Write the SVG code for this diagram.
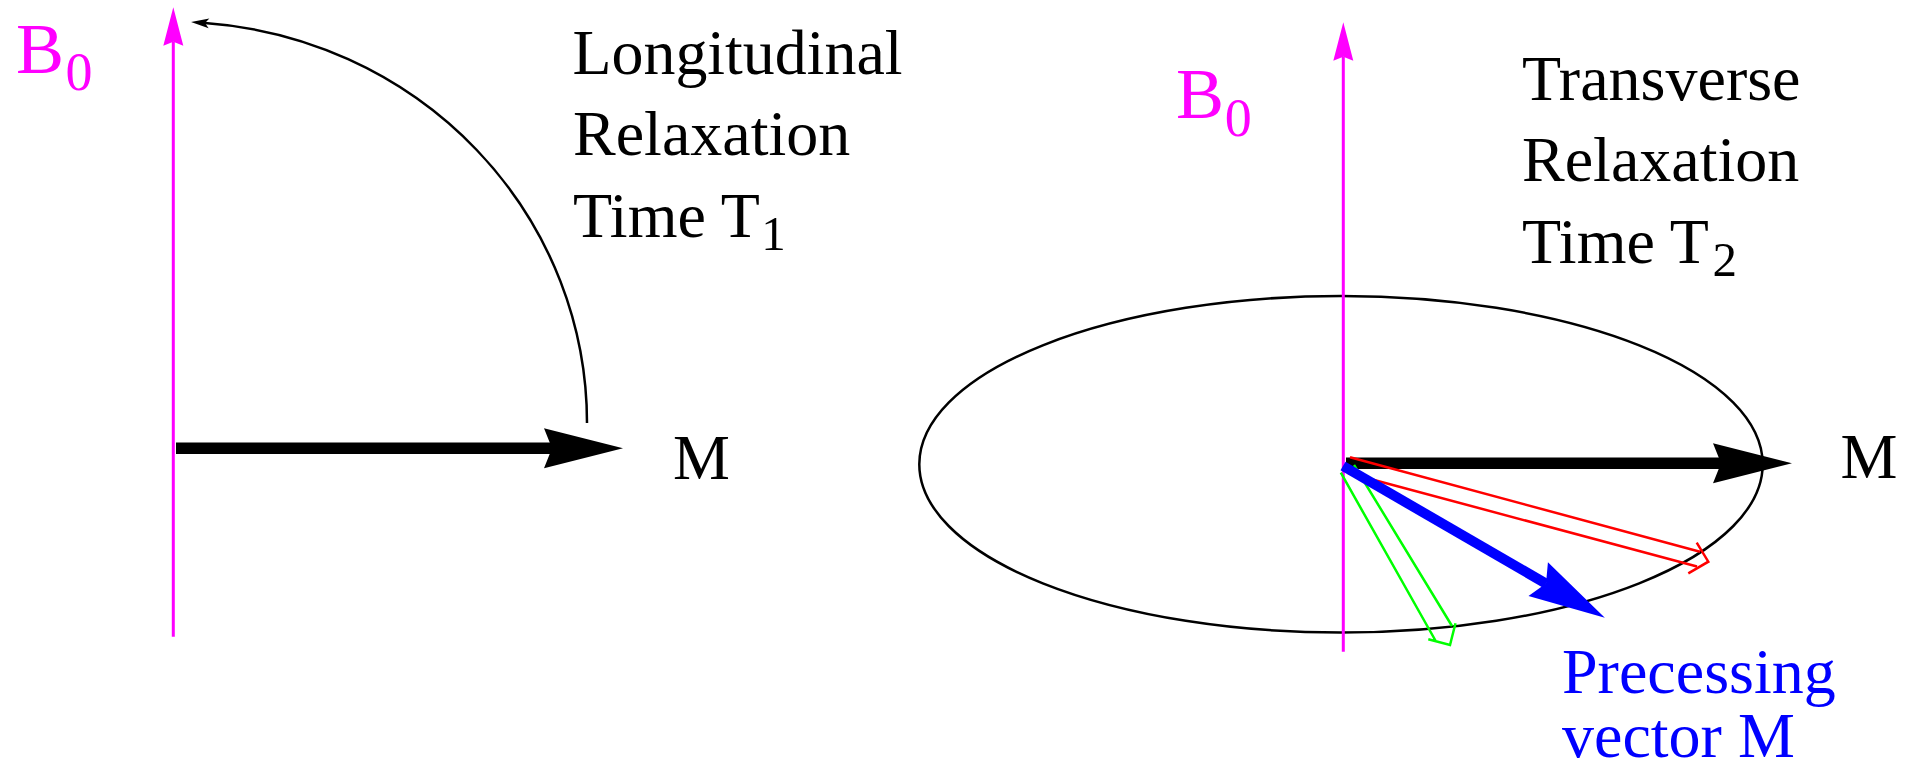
<svg xmlns="http://www.w3.org/2000/svg" width="1918" height="771" viewBox="0 0 1918 771">
<style>
text{font-family:"Liberation Serif","Times New Roman",serif;}
.lbl{font-size:64px;fill:#000;}
.sub{font-size:49px;fill:#000;}
.b{font-size:72px;fill:#ff00ff;}
.bsub{font-size:54px;fill:#ff00ff;}
.blue{font-size:64px;fill:#0000ff;}
.mag{stroke:#ff00ff;stroke-width:3;fill:none;}
.thin{stroke:#000;stroke-width:2.5;fill:none;}
</style>
<defs>
<marker id="magHead" markerUnits="userSpaceOnUse" orient="auto" markerWidth="50" markerHeight="30" refX="4" refY="0" viewBox="0 -15 50 30" overflow="visible">
<path d="M0,-10 L38.5,0 L0,10 L4,0 z" fill="#ff00ff"/>
</marker>
<marker id="bigBlack" markerUnits="userSpaceOnUse" orient="auto" markerWidth="90" markerHeight="50" refX="8" refY="0" viewBox="0 -25 90 50" overflow="visible">
<path d="M0,-20 L79,0 L0,20 L8,0 z" fill="#000"/>
</marker>
<marker id="bigBlue" markerUnits="userSpaceOnUse" orient="auto" markerWidth="90" markerHeight="50" refX="9" refY="0" viewBox="0 -25 90 50" overflow="visible">
<path d="M0,-19.4 L77,0 L0,19.4 L9,0 z" fill="#0000ff"/>
</marker>
<marker id="smallHead" markerUnits="userSpaceOnUse" orient="auto" markerWidth="25" markerHeight="14" refX="4" refY="0" viewBox="0 -7 25 14" overflow="visible">
<path d="M0,-5 L18,0 L0,5 L4,0 z" fill="#000"/>
</marker>
</defs>
<rect width="1918" height="771" fill="#fff"/>

<g id="left-panel">
<g id="left-b0-label">
<text class="b" x="16" y="73.3">B</text>
<text class="bsub" x="65.4" y="90">0</text>
</g>
<g id="left-title">
<text class="lbl" x="572.5" y="74" textLength="330" lengthAdjust="spacingAndGlyphs">Longitudinal</text>
<text class="lbl" x="573" y="155">Relaxation</text>
<text class="lbl" x="573" y="236.7">Time T</text>
<text class="sub" x="761.3" y="250">1</text>
</g>
<g id="left-m-label">
<text class="lbl" x="673" y="479">M</text>
</g>
</g>

<g id="right-panel">
<g id="right-ellipse">
<ellipse class="thin" cx="1341" cy="464.3" rx="421.7" ry="168.3"/>
</g>
<g id="right-b0-label">
<text class="b" x="1176" y="118.3">B</text>
<text class="bsub" x="1224.7" y="136">0</text>
</g>
<g id="right-title">
<text class="lbl" x="1522" y="100">Transverse</text>
<text class="lbl" x="1522" y="181">Relaxation</text>
<text class="lbl" x="1522" y="262.5">Time T</text>
<text class="sub" x="1712.5" y="276">2</text>
</g>
<g id="right-m-label">
<text class="lbl" x="1840.5" y="478">M</text>
</g>
<g id="precessing-label">
<text class="blue" x="1562" y="693">Precessing</text>
<text class="blue" x="1562" y="757">vector M</text>
</g>
</g>

<g id="connectors">
<line class="mag" x1="173.3" y1="636.7" x2="173.3" y2="41.7" marker-end="url(#magHead)"/>
<path class="thin" d="M587,423 A412,401 0 0 0 205,23.1" marker-end="url(#smallHead)"/>
<line x1="176" y1="448.3" x2="552" y2="448.3" stroke="#000" stroke-width="11.5" marker-end="url(#bigBlack)"/>

<line class="mag" x1="1343.3" y1="651.7" x2="1343.3" y2="56.7" marker-end="url(#magHead)"/>
<line x1="1346" y1="463.3" x2="1721" y2="463.3" stroke="#000" stroke-width="11.5" marker-end="url(#bigBlack)"/>
<path d="M1350,457.3 L1700,551.7 M1696.7,542.7 L1708.3,561.7 L1688.3,573.3 M1697,566.5 L1348,473" stroke="#ff0000" stroke-width="2.5" fill="none"/>
<path d="M1340.8,472.7 L1436,641.5 M1354,465 L1452,626 M1428.3,639.3 L1450,645 L1455.5,623.3" stroke="#00ff00" stroke-width="2.5" fill="none"/>
<line x1="1343" y1="466" x2="1546" y2="583.6" stroke="#0000ff" stroke-width="10" marker-end="url(#bigBlue)"/>
</g>
</svg>
